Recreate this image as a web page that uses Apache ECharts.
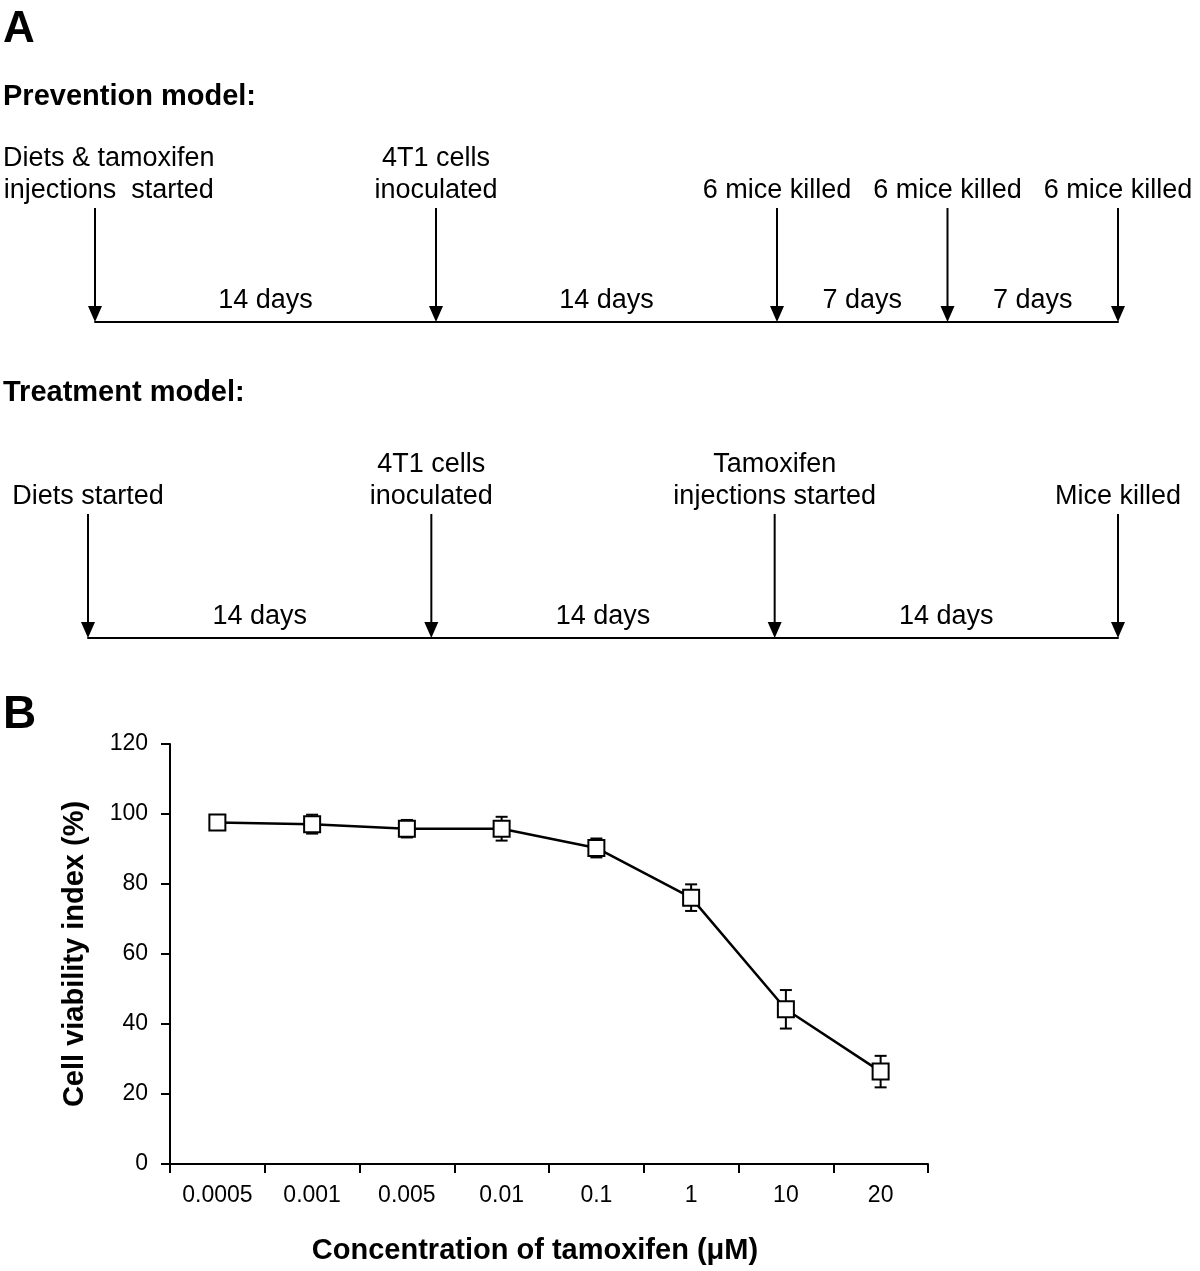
<!DOCTYPE html>
<html>
<head>
<meta charset="utf-8">
<script src="https://cdn.jsdelivr.net/npm/echarts@6/dist/echarts.min.js"></script>
<style>
  html, body { margin: 0; padding: 0; background: #fff; }
  #chart { width: 1200px; height: 1271px; }
</style>
</head>
<body>
<div id="chart"></div>
<script>
// ---------- Panel A data ----------
const preventionDays = [0, 14, 28, 35, 42];
const preventionLabels = ['Diets & tamoxifen\ninjections  started', '4T1 cells\ninoculated', '6 mice killed', '6 mice killed', '6 mice killed'];
const treatmentDays = [0, 14, 28, 42];
const treatmentLabels = ['Diets started', '4T1 cells\ninoculated', 'Tamoxifen\ninjections started', 'Mice killed'];

// ---------- Panel B data ----------
const concentrations = ['0.0005', '0.001', '0.005', '0.01', '0.1', '1', '10', '20'];
const viability = [97.6, 97.1, 95.8, 95.8, 90.3, 76.1, 44.2, 26.4];
const viabilityError = [2.0, 2.7, 2.5, 3.4, 2.7, 3.8, 5.5, 4.5];
const yTicks = { min: 0, max: 120, interval: 20 };

const FONT_FAMILY = '"Liberation Sans", Arial, Helvetica, sans-serif';
const TL_FONT = '27px ' + FONT_FAMILY;
const CHART_W = 1200;

const measureCtx = document.createElement('canvas').getContext('2d');
function textWidth(text, font) {
  measureCtx.font = font;
  return Math.max.apply(null, text.split('\n').map(l => measureCtx.measureText(l).width));
}

function timelineRenderer(days, labels) {
  return function (params, api) {
    const i = params.dataIndex;
    const d = api.value(0);
    const top = api.coord([d, 1]);
    const bot = api.coord([d, 0]);
    const headH = 16, headW = 7;
    const children = [
      { type: 'line', shape: { x1: top[0], y1: top[1], x2: bot[0], y2: bot[1] - headH + 1 },
        style: { stroke: '#000', lineWidth: 2 } },
      { type: 'polygon', shape: { points: [[bot[0] - headW, bot[1] - headH], [bot[0] + headW, bot[1] - headH], [bot[0], bot[1]]] },
        style: { fill: '#000' } }
    ];
    // event label, kept within the canvas
    const w = textWidth(labels[i], TL_FONT);
    let cx = top[0];
    if (cx - w / 2 < 3) cx = 3 + w / 2;
    if (cx + w / 2 > CHART_W - 2) cx = CHART_W - 2 - w / 2;
    children.push({ type: 'text', style: {
      text: labels[i], x: cx, y: top[1] - 1, align: 'center', verticalAlign: 'bottom',
      font: TL_FONT, lineHeight: 32, fill: '#000' } });
    // interval label
    if (i > 0) {
      const prev = api.coord([days[i - 1], 0]);
      children.push({ type: 'text', style: {
        text: (days[i] - days[i - 1]) + ' days', x: (prev[0] + bot[0]) / 2, y: bot[1] - 21,
        align: 'center', verticalAlign: 'middle', font: TL_FONT, fill: '#000' } });
    }
    return { type: 'group', children: children };
  };
}

const chart = echarts.init(document.getElementById('chart'), null, { renderer: 'canvas' });

const timelineX = (gridIndex) => ({
  type: 'value', gridIndex: gridIndex, min: 0, max: 42,
  axisLine: { show: true, onZero: false, lineStyle: { color: '#000', width: 2 } },
  axisTick: { show: false }, axisLabel: { show: false }, splitLine: { show: false }
});
const timelineY = (gridIndex) => ({
  type: 'value', gridIndex: gridIndex, min: 0, max: 1, show: false, splitLine: { show: false }
});

const option = {
  backgroundColor: '#fff',
  animation: false,
  textStyle: { fontFamily: FONT_FAMILY, color: '#000' },
  graphic: [
    { type: 'text', left: 3, top: 8, style: { text: 'A', font: 'bold 44px ' + FONT_FAMILY, fill: '#000' } },
    { type: 'text', left: 3, top: 82, style: { text: 'Prevention model:', font: 'bold 29px ' + FONT_FAMILY, fill: '#000' } },
    { type: 'text', left: 3, top: 378, style: { text: 'Treatment model:', font: 'bold 29px ' + FONT_FAMILY, fill: '#000' } },
    { type: 'text', left: 3, top: 692, style: { text: 'B', font: 'bold 46px ' + FONT_FAMILY, fill: '#000' } }
  ],
  grid: [
    { left: 95, right: 82, top: 208, height: 114 },
    { left: 88, right: 82, top: 514, height: 124 },
    { left: 170, top: 744, width: 758, height: 420 }
  ],
  xAxis: [
    timelineX(0),
    timelineX(1),
    {
      type: 'category', gridIndex: 2, data: concentrations, boundaryGap: true,
      axisLine: { show: true, lineStyle: { color: '#000', width: 2 } },
      axisTick: { show: true, length: 9, alignWithLabel: false, interval: 0, lineStyle: { color: '#000', width: 2 } },
      axisLabel: { interval: 0, margin: 20, fontSize: 23, color: '#000', fontFamily: FONT_FAMILY },
      splitLine: { show: false },
      name: 'Concentration of tamoxifen (\u03bcM)', nameLocation: 'middle', nameGap: 72,
      nameTextStyle: { fontSize: 29, fontWeight: 'bold', color: '#000', fontFamily: FONT_FAMILY, padding: [0, 28, 0, 0] }
    }
  ],
  yAxis: [
    timelineY(0),
    timelineY(1),
    {
      type: 'value', gridIndex: 2, min: yTicks.min, max: yTicks.max, interval: yTicks.interval,
      axisLine: { show: true, lineStyle: { color: '#000', width: 2 } },
      axisTick: { show: true, length: 9, lineStyle: { color: '#000', width: 2 } },
      axisLabel: { margin: 22, fontSize: 23, color: '#000', fontFamily: FONT_FAMILY },
      splitLine: { show: false },
      name: 'Cell viability index (%)', nameLocation: 'middle', nameGap: 81, nameRotate: 90,
      nameTextStyle: { fontSize: 29, fontWeight: 'bold', color: '#000', fontFamily: FONT_FAMILY }
    }
  ],
  series: [
    {
      type: 'custom', name: 'Prevention', xAxisIndex: 0, yAxisIndex: 0,
      data: preventionDays.map(d => [d]), encode: { x: 0 },
      renderItem: timelineRenderer(preventionDays, preventionLabels), clip: false, silent: true
    },
    {
      type: 'custom', name: 'Treatment', xAxisIndex: 1, yAxisIndex: 1,
      data: treatmentDays.map(d => [d]), encode: { x: 0 },
      renderItem: timelineRenderer(treatmentDays, treatmentLabels), clip: false, silent: true
    },
    {
      type: 'custom', name: 'Error', xAxisIndex: 2, yAxisIndex: 2, z: 1,
      data: concentrations.map((c, i) => [i, viability[i] - viabilityError[i], viability[i] + viabilityError[i]]),
      encode: { x: 0, y: [1, 2] },
      renderItem: function (params, api) {
        const lo = api.coord([api.value(0), api.value(1)]);
        const hi = api.coord([api.value(0), api.value(2)]);
        const hw = 6;
        const st = { stroke: '#000', lineWidth: 2 };
        return { type: 'group', children: [
          { type: 'line', shape: { x1: lo[0], y1: lo[1], x2: hi[0], y2: hi[1] }, style: st },
          { type: 'line', shape: { x1: hi[0] - hw, y1: hi[1], x2: hi[0] + hw, y2: hi[1] }, style: st },
          { type: 'line', shape: { x1: lo[0] - hw, y1: lo[1], x2: lo[0] + hw, y2: lo[1] }, style: st }
        ] };
      },
      silent: true
    },
    {
      type: 'line', name: 'Viability', xAxisIndex: 2, yAxisIndex: 2, z: 3,
      data: viability,
      symbol: 'rect', symbolSize: 16, showAllSymbol: true,
      lineStyle: { color: '#000', width: 2.5 },
      itemStyle: { color: '#fff', borderColor: '#000', borderWidth: 2 },
      silent: true
    }
  ]
};
chart.setOption(option);
</script>
</body>
</html>
